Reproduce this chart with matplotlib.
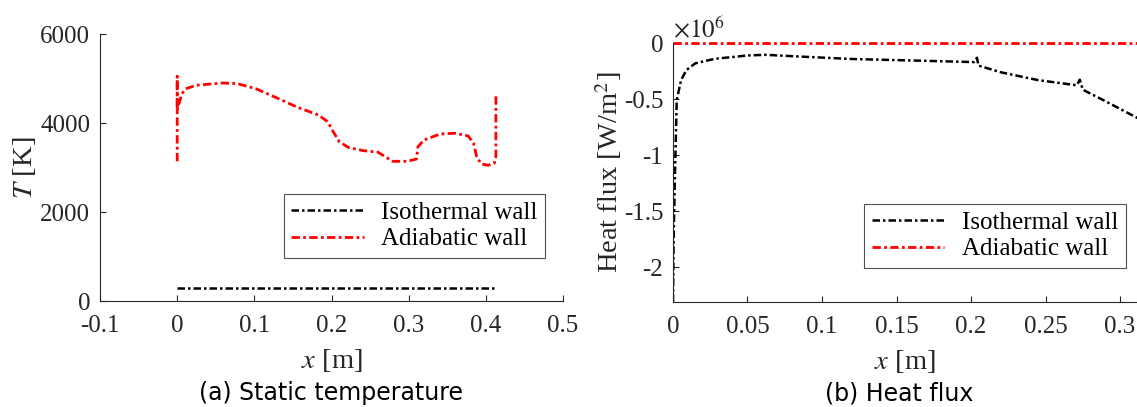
import numpy as np
import matplotlib
matplotlib.use('Agg')
import matplotlib.pyplot as plt
from matplotlib.ticker import FuncFormatter

plt.rcParams['font.family'] = ['Liberation Serif', 'DejaVu Serif']
plt.rcParams['mathtext.fontset'] = 'stix'
plt.rcParams['axes.unicode_minus'] = False

# (a) static temperature along the wall
x_iso = [0.0, 0.41]
T_iso = [300, 300]

x_adi = [0.0, 0.0, 0.0, 0.006, 0.011, 0.025, 0.059, 0.078, 0.102, 0.131, 0.155,
         0.183, 0.195, 0.202, 0.210, 0.222, 0.241, 0.260, 0.269, 0.279, 0.298,
         0.310, 0.312, 0.320, 0.341, 0.360, 0.377, 0.384, 0.388, 0.394, 0.403,
         0.411, 0.413, 0.413]
T_adi = [3140, 5050, 4290, 4660, 4770, 4850, 4900, 4885, 4770, 4550, 4360,
         4180, 4030, 3810, 3580, 3450, 3380, 3345, 3250, 3140, 3140,
         3190, 3470, 3620, 3755, 3770, 3710, 3545, 3250, 3080, 3050,
         3100, 3250, 4620]

# (b) heat flux, in units of 1e6 W/m^2
xq_iso = [0.0, 0.0005, 0.0012, 0.0025, 0.0054, 0.009, 0.015, 0.028, 0.05, 0.062,
          0.084, 0.121, 0.158, 0.202, 0.204, 0.205, 0.22, 0.245, 0.271, 0.273,
          0.275, 0.289, 0.312]
q_iso = [-2.31, -1.69, -1.25, -0.51, -0.33, -0.24, -0.18, -0.14, -0.11, -0.104,
         -0.119, -0.142, -0.154, -0.169, -0.13, -0.20, -0.26, -0.33, -0.376, -0.326,
         -0.415, -0.51, -0.67]
xq_adi = [0.0, 0.312]
q_adi = [0.0, 0.0]

labels = ['Isothermal wall', 'Adiabatic wall']
dashdot = (3, 1.2, 1, 1.2)
axcol = '#262626'
fs = 18
lfs = 20.5

fig = plt.figure(figsize=(11.37, 4.07), dpi=100)
ax1 = fig.add_axes([0.088, 0.2604, 0.4072, 0.656])
ax2 = fig.add_axes([0.5919, 0.258, 0.4081, 0.636])

ax1.plot(x_iso, T_iso, color='k', lw=1.8, dashes=dashdot, label=labels[0])
ax1.plot(x_adi, T_adi, color='red', lw=2.0, dashes=dashdot, label=labels[1])
ax1.set_xlim(-0.1, 0.5)
ax1.set_ylim(0, 6000)
ax1.set_xticks(np.arange(-0.1, 0.51, 0.1))
ax1.set_yticks([0, 2000, 4000, 6000])
ax1.set_xlabel('$x$ [m]', fontsize=lfs, labelpad=7)
ax1.set_ylabel('$T$ [K]', fontsize=lfs, labelpad=2)

ax2.plot(xq_iso, q_iso, color='k', lw=1.8, dashes=dashdot, label=labels[0])
ax2.plot(xq_adi, q_adi, color='red', lw=2.0, dashes=dashdot, label=labels[1], clip_on=False)
ax2.set_xlim(0, 0.3114)
ax2.set_ylim(-2.31, 0)
ax2.set_xticks(np.arange(0, 0.31, 0.05))
ax2.set_yticks([-2, -1.5, -1, -0.5, 0])
ax2.set_xlabel('$x$ [m]', fontsize=lfs, labelpad=7)
ax2.set_ylabel('Heat flux [W/m$^2$]', fontsize=lfs, labelpad=0)
ax2.text(0.0, 1.005, r'$\times 10^6$', transform=ax2.transAxes, fontsize=fs,
         ha='left', va='bottom', color=axcol)

fmt = FuncFormatter(lambda v, p: '%g' % round(v, 4))
for ax in (ax1, ax2):
    ax.xaxis.set_major_formatter(fmt)
    ax.yaxis.set_major_formatter(fmt)
    ax.spines['top'].set_visible(False)
    ax.spines['right'].set_visible(False)
    for s in ('left', 'bottom'):
        ax.spines[s].set_color(axcol)
        ax.spines[s].set_linewidth(0.8)
    ax.tick_params(direction='in', length=4, width=0.8, colors=axcol,
                   labelsize=fs)
    ax.tick_params(axis='x', pad=10)
    ax.tick_params(axis='y', pad=7)
    ax.xaxis.label.set_color(axcol)
    ax.yaxis.label.set_color(axcol)

leg_kw = dict(fontsize=fs, frameon=True, fancybox=False, handlelength=2.9,
              borderpad=0.3, labelspacing=0.15, handletextpad=0.7,
              borderaxespad=0, loc='upper left')
l1 = ax1.legend(bbox_to_anchor=(0.397, 0.40), **leg_kw)
l2 = ax2.legend(bbox_to_anchor=(0.412, 0.378), **leg_kw)
for l in (l1, l2):
    l.get_frame().set_edgecolor(axcol)
    l.get_frame().set_linewidth(0.8)

fig.text(331 / 1137, 1 - 393 / 407, '(a) Static temperature', fontsize=17,
         family='DejaVu Sans', ha='center', va='center')
fig.text(899 / 1137, 1 - 393 / 407, '(b) Heat flux', fontsize=17,
         family='DejaVu Sans', ha='center', va='center')

fig.savefig('out.png', dpi=100)
